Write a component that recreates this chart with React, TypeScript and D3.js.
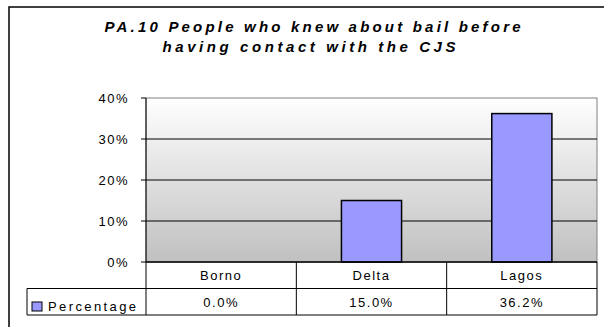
import React from "react";
import * as d3 from "d3";

const titleLines = ["PA.10 People who knew about bail before", "having contact with the CJS"];
const categories = ["Borno", "Delta", "Lagos"];
const values = [0.0, 15.0, 36.2];
const valueLabels = ["0.0%", "15.0%", "36.2%"];
const yTicks = [0, 10, 20, 30, 40];
const seriesName = "Percentage";

const W = 604;
const H = 327;
const plotLeft = 146;
const plotRight = 597;
const plotTop = 98;
const plotBottom = 262;
const row1Bottom = 288.5;
const row2Bottom = 315;
const legendLeft = 27;
const font = "'Liberation Sans', Arial, sans-serif";

export default function App() {
  const x = d3.scaleBand<string>().domain(categories).range([plotLeft, plotRight]).paddingInner(0.6).paddingOuter(0.3);
  const step = (plotRight - plotLeft) / categories.length;
  const y = d3.scaleLinear().domain([0, 40]).range([plotBottom, plotTop]);
  const bw = x.bandwidth();

  return (
    <svg width={W} height={H} style={{ position: "absolute", left: 0, top: 0 }} fontFamily={font}>
      <defs>
        <linearGradient id="bg" x1="0" y1="0" x2="0" y2="1">
          <stop offset="0" stopColor="#ffffff" />
          <stop offset="1" stopColor="#c0c0c0" />
        </linearGradient>
      </defs>
      <rect x={0} y={0} width={W} height={H} fill="#ffffff" />
      <rect x={9} y={7} width={800} height={500} fill="none" stroke="#000" strokeWidth={1.5} />
      {titleLines.map((t, i) => (
        <text
          key={i}
          x={i === 0 ? 312.5 : 309}
          y={i === 0 ? 31.5 : 51.5}
          textAnchor="middle"
          fontSize={15}
          fontWeight="bold"
          fontStyle="italic"
          textLength={i === 0 ? 416 : 293}
          lengthAdjust="spacing"
          fill="#000"
        >
          {t}
        </text>
      ))}
      {/* plot area */}
      <rect x={plotLeft} y={plotTop} width={plotRight - plotLeft} height={plotBottom - plotTop} fill="url(#bg)" stroke="#808080" strokeWidth={1} />
      {yTicks.filter((t) => t > 0 && t < 40).map((t) => (
        <line key={t} x1={plotLeft} x2={plotRight} y1={y(t)} y2={y(t)} stroke="#000" strokeWidth={1} />
      ))}
      {/* bars */}
      {categories.map((c, i) =>
        values[i] > 0 ? (
          <rect key={c} x={x(c)} y={y(values[i])} width={bw} height={plotBottom - y(values[i])} fill="#9999ff" stroke="#000" strokeWidth={1.5} />
        ) : null
      )}
      {/* y axis */}
      <line x1={plotLeft} x2={plotLeft} y1={plotTop} y2={row2Bottom} stroke="#000" strokeWidth={1} />
      {yTicks.map((t) => (
        <g key={t}>
          <line x1={plotLeft - 5} x2={plotLeft} y1={y(t)} y2={y(t)} stroke="#000" />
          <text x={129} y={y(t) + 4.5} textAnchor="end" fontSize={13} letterSpacing={1.5} fill="#000">
            {t}%
          </text>
        </g>
      ))}
      {/* table */}
      <line x1={plotLeft} x2={plotRight} y1={plotBottom} y2={plotBottom} stroke="#000" strokeWidth={1.5} />
      <line x1={legendLeft} x2={plotRight} y1={row1Bottom} y2={row1Bottom} stroke="#000" strokeWidth={1} />
      <line x1={legendLeft} x2={plotRight} y1={row2Bottom} y2={row2Bottom} stroke="#000" strokeWidth={1} />
      <line x1={legendLeft} x2={legendLeft} y1={row1Bottom} y2={row2Bottom} stroke="#000" strokeWidth={1} />
      {categories.map((c, i) => (
        <line key={c} x1={plotLeft + step * (i + 1)} x2={plotLeft + step * (i + 1)} y1={plotBottom} y2={row2Bottom} stroke="#000" strokeWidth={1} />
      ))}
      {categories.map((c, i) => (
        <g key={c}>
          <text x={x(c)! + bw / 2} y={280} textAnchor="middle" fontSize={13} letterSpacing={1.5} fill="#000">
            {c}
          </text>
          <text x={x(c)! + bw / 2} y={306.5} textAnchor="middle" fontSize={13} letterSpacing={1.5} fill="#000">
            {valueLabels[i]}
          </text>
        </g>
      ))}
      <rect x={32} y={302} width={10} height={9} fill="#9999ff" stroke="#000" strokeWidth={1} />
      <text x={48} y={311} fontSize={13} textLength={88} lengthAdjust="spacing" fill="#000">
        {seriesName}
      </text>
    </svg>
  );
}
